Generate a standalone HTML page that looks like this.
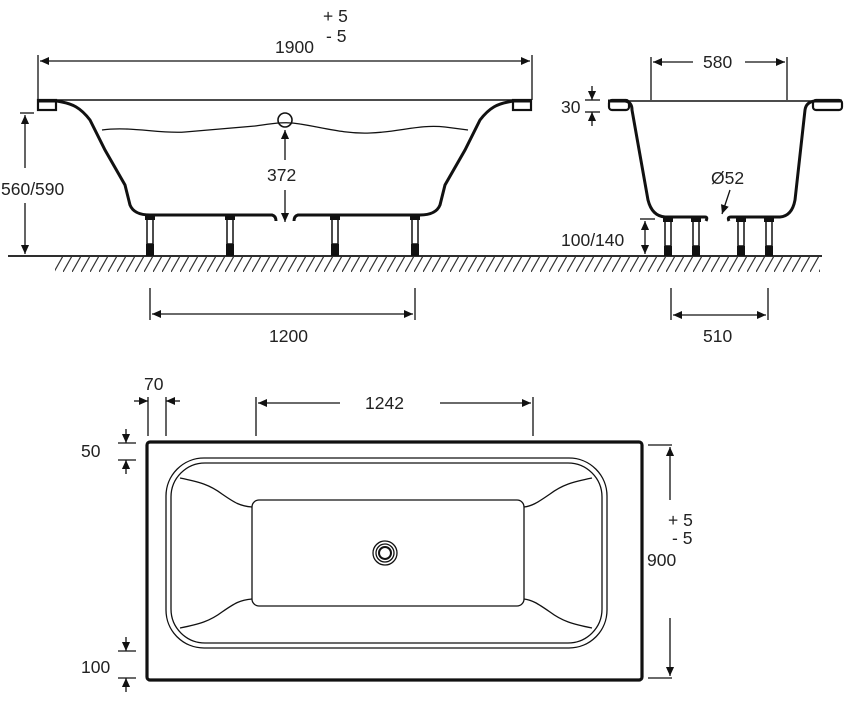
<!DOCTYPE html>
<html><head><meta charset="utf-8"><style>
html,body{margin:0;padding:0;background:#fff}
svg{display:block}
text{font-family:"Liberation Sans",Arial,sans-serif;font-size:17.5px;fill:#222}
</style></head><body>
<svg width="850" height="704" viewBox="0 0 850 704" xmlns="http://www.w3.org/2000/svg">
<defs>
<marker id="a" viewBox="0 0 10 10" refX="10" refY="5" markerWidth="14" markerHeight="9" markerUnits="userSpaceOnUse" orient="auto-start-reverse"><path d="M0,0.5 L10,5 L0,9.5 z" fill="#111"/></marker>
<pattern id="h" width="9" height="16" patternUnits="userSpaceOnUse"><line x1="0" y1="16" x2="9" y2="0" stroke="#333" stroke-width="1.2"/></pattern>
</defs>
<g stroke="#111" fill="none" stroke-width="1.3">
<line x1="38" y1="55" x2="38" y2="100"/><line x1="532" y1="55" x2="532" y2="100"/>
<line x1="40" y1="61" x2="530" y2="61" marker-start="url(#a)" marker-end="url(#a)"/>
<line x1="38" y1="100" x2="532" y2="100" stroke-width="1.6"/>
<path d="M38,101 H57 L62,102 C72,104 80,107 90,120 L105,150 L125,185 L130,205 Q134,215 150,215 H272 Q276,216 276,221" stroke-width="3"/>
<path d="M294,221 Q294,216 298,215 H420 Q436,215 440,205 L445,185 L465,150 L480,120 C490,107 498,104 508,102 L513,101 H531" stroke-width="3"/>
<rect x="38" y="100" width="18" height="10" stroke-width="2.2"/>
<rect x="513" y="100" width="18" height="10" stroke-width="2.2"/>
<path d="M102,130 C130,126 160,134 185,132 C210,130 230,128 255,126 C270,124 285,121 300,124 C325,128 345,134 370,133 C400,132 420,124 445,127 L468,130"/>
<circle cx="285" cy="120" r="7" stroke-width="1.6"/>
<line x1="285" y1="130" x2="285" y2="160" marker-start="url(#a)"/>
<line x1="285" y1="190" x2="285" y2="222" marker-end="url(#a)"/>
<line x1="20" y1="113" x2="34" y2="113"/>
<line x1="25" y1="115" x2="25" y2="168" marker-start="url(#a)"/>
<line x1="25" y1="203" x2="25" y2="254" marker-end="url(#a)"/>
<line x1="8" y1="256" x2="822" y2="256" stroke-width="1.8"/>
</g>
<rect x="55" y="257" width="765" height="15" fill="url(#h)"/>
<g fill="#fff" stroke="#111" stroke-width="1.5">
<rect x="147" y="218" width="6" height="26"/><rect x="227" y="218" width="6" height="26"/>
<rect x="332" y="218" width="6" height="26"/><rect x="412" y="218" width="6" height="26"/>
<rect x="665" y="220" width="6" height="26"/><rect x="693" y="220" width="6" height="26"/>
<rect x="738" y="220" width="6" height="26"/><rect x="766" y="220" width="6" height="26"/>
</g>
<g fill="#111">
<rect x="146" y="244" width="8" height="12"/><rect x="226" y="244" width="8" height="12"/>
<rect x="331" y="244" width="8" height="12"/><rect x="411" y="244" width="8" height="12"/>
<rect x="664" y="246" width="8" height="10"/><rect x="692" y="246" width="8" height="10"/>
<rect x="737" y="246" width="8" height="10"/><rect x="765" y="246" width="8" height="10"/>
<rect x="145" y="215" width="10" height="5"/><rect x="225" y="215" width="10" height="5"/>
<rect x="330" y="215" width="10" height="5"/><rect x="410" y="215" width="10" height="5"/>
<rect x="663" y="218" width="10" height="4"/><rect x="691" y="218" width="10" height="4"/>
<rect x="736" y="218" width="10" height="4"/><rect x="764" y="218" width="10" height="4"/>
</g>
<g stroke="#111" fill="none" stroke-width="1.3">
<line x1="150" y1="288" x2="150" y2="320"/><line x1="415" y1="288" x2="415" y2="320"/>
<line x1="152" y1="314" x2="413" y2="314" marker-start="url(#a)" marker-end="url(#a)"/>
<line x1="608" y1="101" x2="842" y2="101" stroke-width="1.6"/>
<line x1="651" y1="57" x2="651" y2="100"/><line x1="787" y1="57" x2="787" y2="100"/>
<line x1="653" y1="62" x2="693" y2="62" marker-start="url(#a)"/>
<line x1="745" y1="62" x2="785" y2="62" marker-end="url(#a)"/>
<path d="M608,101 H625 Q632,102 632,110 L648,200 Q652,216 665,217 H705 Q708,217 706,221" stroke-width="3"/>
<path d="M729,221 Q727,217 731,217 H780 Q792,216 795,200 L805,110 Q806,102 815,101 H842" stroke-width="3"/>
<rect x="609" y="100" width="20" height="10" rx="3" stroke-width="2.2"/>
<rect x="813" y="100" width="29" height="10" rx="3" stroke-width="2.2"/>
<line x1="585" y1="100" x2="600" y2="100"/><line x1="585" y1="112" x2="600" y2="112"/>
<line x1="592" y1="86" x2="592" y2="100" marker-end="url(#a)"/>
<line x1="592" y1="126" x2="592" y2="112" marker-end="url(#a)"/>
<line x1="730" y1="190" x2="722" y2="214" marker-end="url(#a)"/>
<line x1="640" y1="219" x2="655" y2="219"/>
<line x1="645" y1="221" x2="645" y2="254" marker-start="url(#a)" marker-end="url(#a)"/>
<line x1="671" y1="288" x2="671" y2="320"/><line x1="768" y1="288" x2="768" y2="320"/>
<line x1="673" y1="315" x2="766" y2="315" marker-start="url(#a)" marker-end="url(#a)"/>
<rect x="147" y="442" width="495" height="238" rx="3" stroke-width="3.2"/>
<rect x="166" y="458" width="441" height="190" rx="38"/>
<rect x="171" y="463" width="431" height="180" rx="34"/>
<rect x="252" y="500" width="272" height="106" rx="7"/>
<path d="M180,478 C200,482 210,485 222,494 C235,503 240,506 252,507"/>
<path d="M180,628 C200,624 210,621 222,612 C235,603 240,600 252,599"/>
<path d="M592,478 C572,482 562,485 550,494 C537,503 532,506 524,507"/>
<path d="M592,628 C572,624 562,621 550,612 C537,603 532,600 524,599"/>
<circle cx="385" cy="553" r="12"/><circle cx="385" cy="553" r="9"/><circle cx="385" cy="553" r="6" stroke-width="2"/>
<line x1="256" y1="397" x2="256" y2="436"/><line x1="533" y1="397" x2="533" y2="436"/>
<line x1="258" y1="403" x2="340" y2="403" marker-start="url(#a)"/>
<line x1="440" y1="403" x2="531" y2="403" marker-end="url(#a)"/>
<line x1="148" y1="397" x2="148" y2="436"/><line x1="166" y1="397" x2="166" y2="436"/>
<line x1="134" y1="401" x2="148" y2="401" marker-end="url(#a)"/>
<line x1="180" y1="401" x2="166" y2="401" marker-end="url(#a)"/>
<line x1="118" y1="443" x2="136" y2="443"/><line x1="118" y1="460" x2="136" y2="460"/>
<line x1="126" y1="429" x2="126" y2="443" marker-end="url(#a)"/>
<line x1="126" y1="474" x2="126" y2="460" marker-end="url(#a)"/>
<line x1="118" y1="651" x2="136" y2="651"/><line x1="118" y1="678" x2="136" y2="678"/>
<line x1="126" y1="637" x2="126" y2="651" marker-end="url(#a)"/>
<line x1="126" y1="692" x2="126" y2="678" marker-end="url(#a)"/>
<line x1="648" y1="445" x2="672" y2="445"/><line x1="648" y1="678" x2="672" y2="678"/>
<line x1="670" y1="447" x2="670" y2="500" marker-start="url(#a)"/>
<line x1="670" y1="618" x2="670" y2="676" marker-end="url(#a)"/>
</g>
<g>
<text x="323" y="22">+ 5</text>
<text x="326" y="42">- 5</text>
<text x="275" y="53">1900</text>
<text x="267" y="181">372</text>
<text x="1" y="195">560/590</text>
<text x="269" y="342">1200</text>
<text x="703" y="68">580</text>
<text x="561" y="113">30</text>
<text x="711" y="184">Ø52</text>
<text x="561" y="246">100/140</text>
<text x="703" y="342">510</text>
<text x="144" y="390">70</text>
<text x="365" y="409">1242</text>
<text x="81" y="457">50</text>
<text x="81" y="673">100</text>
<text x="668" y="526">+ 5</text>
<text x="672" y="544">- 5</text>
<text x="647" y="566">900</text>
</g>
</svg>
</body></html>
